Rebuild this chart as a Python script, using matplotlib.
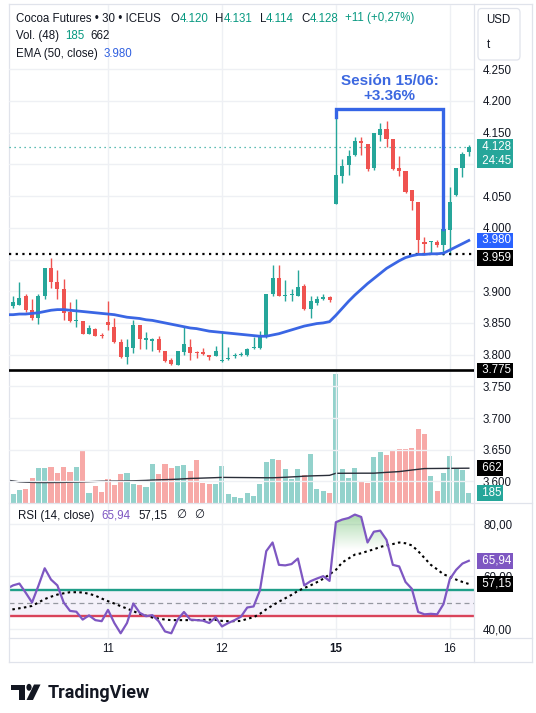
import matplotlib.pyplot as plt
import numpy as np
from matplotlib.lines import Line2D
from matplotlib.patches import FancyBboxPatch, Polygon, Circle
from matplotlib.path import Path
from matplotlib.transforms import blended_transform_factory, offset_copy

plt.rcParams['font.family'] = ['Liberation Sans', 'DejaVu Sans']

# ---- data (30 min bars) ----
opens = [3.883, 3.876, 3.878, 3.892, 3.871, 3.858, 3.892, 3.937, 3.915, 3.904,
         3.867, 3.853, 3.853, 3.832, 3.841, 3.830, 3.851, 3.844, 3.820, 3.796,
         3.810, 3.847, 3.8237, 3.821, 3.824, 3.806, 3.791, 3.784, 3.804, 3.812,
         3.8033, 3.8027, 3.800, 3.798, 3.790, 3.7927, 3.7975, 3.7996, 3.800, 3.810,
         3.811, 3.828, 3.895, 3.921, 3.893, 3.8942, 3.892, 3.909, 3.872, 3.8816,
         3.887, 3.891, 4.037, 4.082, 4.099, 4.115, 4.137, 4.132, 4.094, 4.146,
         4.156, 4.140, 4.095, 4.0896, 4.060, 4.041, 3.978, 3.978, 3.978, 3.973,
         3.997, 4.052, 4.094, 4.120]
highs = [3.884, 3.893, 3.915, 3.896, 3.888, 3.896, 3.936, 3.952, 3.933, 3.920,
         3.883, 3.887, 3.853, 3.847, 3.842, 3.834, 3.884, 3.858, 3.824, 3.824,
         3.855, 3.847, 3.836, 3.826, 3.830, 3.806, 3.795, 3.805, 3.845, 3.824,
         3.805, 3.811, 3.800, 3.813, 3.837, 3.812, 3.803, 3.804, 3.811, 3.828,
         3.837, 3.895, 3.942, 3.942, 3.917, 3.903, 3.933, 3.912, 3.892, 3.893,
         3.896, 3.892, 4.175, 4.108, 4.123, 4.144, 4.143, 4.132, 4.149, 4.166,
         4.169, 4.140, 4.113, 4.0896, 4.060, 4.041, 3.986, 3.9797, 3.981, 3.999,
         4.064, 4.095, 4.120, 4.131]
lows = [3.877, 3.873, 3.878, 3.868, 3.855, 3.849, 3.888, 3.905, 3.887, 3.855,
        3.851, 3.844, 3.832, 3.832, 3.829, 3.826, 3.839, 3.818, 3.795, 3.786,
        3.803, 3.809, 3.809, 3.805, 3.804, 3.788, 3.783, 3.783, 3.799, 3.792,
        3.795, 3.799, 3.791, 3.798, 3.789, 3.7917, 3.795, 3.7975, 3.7985, 3.809,
        3.809, 3.827, 3.893, 3.893, 3.884, 3.884, 3.892, 3.871, 3.858, 3.879,
        3.886, 3.8826, 4.037, 4.070, 4.083, 4.113, 4.115, 4.089, 4.091, 4.1375,
        4.128, 4.091, 4.082, 4.055, 4.028, 3.960, 3.959, 3.961, 3.970, 3.957,
        3.957, 4.050, 4.080, 4.114]
closes = [3.879, 3.883, 3.890, 3.870, 3.858, 3.893, 3.936, 3.914, 3.903, 3.866,
          3.853, 3.8535, 3.833, 3.842, 3.829, 3.829, 3.846, 3.820, 3.796, 3.812,
          3.847, 3.825, 3.8243, 3.825, 3.808, 3.790, 3.786, 3.805, 3.817, 3.803,
          3.8027, 3.8016, 3.796, 3.806, 3.7905, 3.7932, 3.7985, 3.8003, 3.809, 3.811,
          3.828, 3.895, 3.921, 3.893, 3.8937, 3.8948, 3.907, 3.872, 3.884, 3.888,
          3.891, 3.8858, 4.083, 4.0975, 4.113, 4.137, 4.133, 4.092, 4.149, 4.156,
          4.140, 4.093, 4.089, 4.057, 4.043, 3.980, 3.9745, 3.9785, 3.973, 3.998,
          4.041, 4.094, 4.116, 4.128]
volumes = [337, 175, 253, 273, 467, 662, 662, 694, 565, 681,
           584, 681, 986, 195, 331, 214, 448, 350, 545, 565,
           370, 350, 312, 740, 545, 740, 662, 701, 720, 604,
           818, 389, 370, 370, 701, 175, 117, 97, 195, 136,
           370, 779, 837, 818, 643, 448, 643, 526, 935, 273,
           234, 195, 2450, 643, 467, 662, 409, 389, 876, 974,
           915, 993, 1032, 1032, 1051, 1402, 1304, 506, 234, 565,
           896, 643, 623, 185]
vol_ma = [435, 420, 402, 396, 392, 390, 389, 390, 391, 392,
          395, 398, 401, 405, 410, 415, 416, 417, 418, 420,
          422, 426, 430, 436, 440, 444, 448, 453, 460, 467,
          470, 474, 478, 482, 487, 486, 485, 484, 483, 482,
          481, 480, 480, 484, 489, 496, 502, 510, 515, 519,
          522, 526, 565, 565, 566, 566, 567, 567, 567, 575,
          583, 590, 597, 612, 627, 641, 655, 656, 657, 658,
          659, 660, 661, 662]
ema50 = [3.863, 3.863, 3.864, 3.864, 3.865, 3.866, 3.868, 3.870, 3.871, 3.871,
         3.870, 3.869, 3.868, 3.867, 3.866, 3.865, 3.864, 3.863, 3.861, 3.859,
         3.858, 3.857, 3.855, 3.854, 3.852, 3.850, 3.848, 3.846, 3.844, 3.842,
         3.841, 3.839, 3.837, 3.836, 3.835, 3.834, 3.833, 3.832, 3.831, 3.830,
         3.829, 3.829, 3.831, 3.833, 3.836, 3.839, 3.842, 3.845, 3.847, 3.849,
         3.850, 3.852, 3.862, 3.873, 3.884, 3.894, 3.903, 3.912, 3.920, 3.928,
         3.936, 3.942, 3.948, 3.953, 3.956, 3.958, 3.958, 3.959, 3.959, 3.960,
         3.965, 3.970, 3.975, 3.980]
rsi = [55.3, 56.6, 57.3, 53.8, 50.1, 56.4, 63.1, 58.8, 56.6, 50.1,
       46.9, 46.6, 43.6, 45.2, 43.4, 43.0, 47.3, 42.3, 38.4, 42.3,
       49.7, 46.2, 44.9, 45.3, 43.0, 39.1, 38.4, 43.6, 46.5, 43.6,
       43.4, 43.2, 42.3, 44.5, 41.0, 42.3, 43.4, 44.7, 48.2, 48.6,
       54.7, 69.6, 72.9, 64.4, 64.2, 64.7, 66.8, 56.6, 58.2, 59.2,
       60.1, 58.3, 80.6, 81.6, 82.2, 83.5, 82.6, 72.9, 77.0, 77.4,
       73.9, 64.4, 63.8, 57.9, 55.3, 46.5, 45.6, 45.8, 45.6, 49.5,
       59.0, 62.5, 64.9, 65.94]
rsi_ma = [46.9, 47.5, 47.9, 48.3, 48.8, 50.1, 51.4, 52.3, 53.1, 53.6,
          54.0, 54.0, 53.9, 53.4, 52.7, 51.6, 50.6, 49.7, 48.7, 47.8,
          46.8, 45.8, 45.1, 44.4, 44.0, 43.6, 43.4, 43.4, 43.4, 43.4,
          43.4, 43.5, 43.6, 43.5, 43.1, 43.0, 43.0, 43.1, 43.9, 44.5,
          45.8, 47.5, 49.0, 50.4, 51.7, 53.0, 54.5, 55.6, 56.6, 57.8,
          59.1, 60.8, 62.5, 65.3, 66.8, 68.3, 68.8, 69.6, 70.3, 71.2,
          71.8, 72.3, 72.9, 72.6, 71.8, 69.6, 67.0, 64.4, 62.7, 60.8,
          59.9, 58.8, 57.9, 57.15]

day_ticks = [16, 34, 52, 70]
day_labels = ['11', '12', '15', '16']
price_ticks = [3.60, 3.65, 3.70, 3.75, 3.80, 3.85, 3.90, 3.95, 4.00, 4.05, 4.10, 4.15, 4.20, 4.25]
hidden_ticks = [3.95, 4.10]  # covered by the value boxes on the chart
rsi_ticks = [40, 60, 80]
support = 3.959
floor_level = 3.775
bracket_top = 4.187
session_start, session_end = 52, 69

# ---- colours ----
GREEN = '#26a69a'
RED = '#ef5350'
DARK = '#131722'
GRID = '#eef0f4'
BORDER = '#e0e3eb'
BLUE = '#2962ff'
PURPLE = '#7e57c2'
TEAL = '#089981'

W, H = 536, 713


def fx(x):
    return x / W


def fy(y):
    return 1 - y / H


fig = plt.figure(figsize=(W / 100, H / 100), dpi=100)
ax = fig.add_axes([fx(9), fy(503), fx(474) - fx(9), (503 - 5) / H])
axv = ax.twinx()
axr = fig.add_axes([fx(9), fy(637.5), fx(474) - fx(9), (637.5 - 503) / H])
ax.set_zorder(2)
ax.patch.set_visible(False)
axv.set_zorder(1)

idx = np.arange(len(opens))
o = np.array(opens)
c = np.array(closes)
up = c >= o
cols = np.where(up, GREEN, RED)
vcols = np.where(up, '#93d2cc', '#f7a9a7')

# volume
axv.bar(idx, volumes, width=0.8, color=vcols, zorder=1)
axv.plot(idx, vol_ma, color='#2a2e39', lw=1.0, zorder=2)
axv.set_ylim(0, 9470)
axv.set_yticks([])

# candles
ax.vlines(idx, lows, highs, colors=cols, lw=1.0, zorder=3)
ax.bar(idx, np.maximum(np.abs(c - o), 0.0018), bottom=np.minimum(o, c),
       width=0.64, color=cols, zorder=4)
ax.plot(idx, ema50, color='#3a66e4', lw=2.0, zorder=5)

ax.axhline(support, color='black', ls=(0, (1, 2)), lw=1.6, zorder=3)
ax.axhline(floor_level, color='black', lw=1.9, zorder=3)
ax.axhline(closes[-1], color=GREEN, ls=(0, (1, 3)), lw=0.9, zorder=2)

# session bracket
ax.plot([session_start, session_start, session_end, session_end],
        [highs[session_start], bracket_top, bracket_top, closes[session_end]],
        color='#3565e6', lw=2.4, solid_joinstyle='miter', zorder=6)
ax.text((session_start + session_end) / 2, 4.2194, 'Sesión 15/06:\n+3.36%',
        ha='center', va='center', fontsize=11, fontweight='bold',
        color='#3c68e0', linespacing=1.05, zorder=7)

ax.set_xlim(0.36, 73.82)
ax.set_ylim(3.566, 4.3514)
ax.set_xticks(day_ticks)
ax.set_yticks(price_ticks)
ax.set_yticklabels(['' if p in hidden_ticks else f'{p:.3f}' for p in price_ticks])
ax.yaxis.tick_right()
ax.tick_params(axis='y', length=0, pad=6.5, labelsize=8.3, labelcolor=DARK)
ax.tick_params(axis='x', length=0, labelbottom=False)
ax.grid(True, color=GRID, lw=1.0)
for a in (ax, axv, axr):
    for s in a.spines.values():
        s.set_visible(False)

# right-axis value boxes
bt = blended_transform_factory(ax.transAxes, ax.transData)
bx = (479 - 9) / 465


def value_box(target, s, y, fc, trans, dy=0):
    tr = offset_copy(trans, fig=fig, y=dy, units='dots') if dy else trans
    target.text(bx, y, ' ' + s, transform=tr, ha='left', va='center', fontsize=8.3,
                color='white', clip_on=False, zorder=20, linespacing=1.2,
                bbox=dict(boxstyle='square,pad=0.16', fc=fc, ec='none'))


value_box(ax, f'{closes[-1]:.3f}\n 24:45', closes[-1], GREEN, bt, dy=-7)
value_box(ax, f'{ema50[-1]:.3f}', ema50[-1], BLUE, bt)
value_box(ax, f'{support:.3f}', support, 'black', bt, dy=-4.5)
value_box(ax, f'{floor_level:.3f}', floor_level, 'black', bt)
vt = blended_transform_factory(ax.transAxes, axv.transData)
value_box(ax, f'{vol_ma[-1]}', vol_ma[-1], 'black', vt)
value_box(ax, f'{volumes[-1]}', volumes[-1], GREEN, vt)

# RSI pane
r = np.array(rsi)
axr.axhspan(45, 55, color=PURPLE, alpha=0.08, lw=0)
axr.axhline(55, color='#1f9e89', lw=1.7)
axr.axhline(45, color='#d9435a', lw=1.7)
axr.axhline(50, color='#9598a1', lw=0.9, dashes=(4, 3))
fb = axr.fill_between(idx, 70, r, where=r > 70, interpolate=True, color='none', lw=0)
paths = fb.get_paths()
if paths:
    grad = np.zeros((100, 1, 4))
    grad[:, 0, 0] = 0.30
    grad[:, 0, 1] = 0.69
    grad[:, 0, 2] = 0.31
    grad[:, 0, 3] = np.linspace(0.0, 0.55, 100)
    img = axr.imshow(grad, extent=[0, 74, 70, 86], origin='lower', aspect='auto', zorder=2)
    img.set_clip_path(Path.make_compound_path(*paths), transform=axr.transData)
axr.plot(idx, rsi, color=PURPLE, lw=1.6, zorder=4)
axr.plot(idx, rsi_ma, color='black', lw=1.5, ls=(0, (1.2, 1.6)), zorder=3)
axr.set_xlim(0.36, 73.82)
axr.set_ylim(36.8, 87.9)
axr.set_yticks(rsi_ticks)
axr.set_yticklabels([f'{v:.2f}'.replace('.', ',') for v in rsi_ticks])
axr.yaxis.tick_right()
axr.set_xticks(day_ticks)
axr.set_xticklabels(day_labels)
axr.tick_params(axis='both', length=0, labelsize=8.3, labelcolor=DARK)
axr.tick_params(axis='y', pad=6.5)
axr.tick_params(axis='x', pad=4)
for lab in axr.get_xticklabels():
    if lab.get_text() == '15':
        lab.set_fontweight('bold')
axr.grid(True, color=GRID, lw=1.0)

rt = blended_transform_factory(axr.transAxes, axr.transData)
value_box(axr, f'{rsi[-1]:.2f}'.replace('.', ','), rsi[-1], PURPLE, rt)
value_box(axr, f'{rsi_ma[-1]:.2f}'.replace('.', ','), rsi_ma[-1], 'black', rt)

# frame lines
for (x0, y0, x1, y1) in [(8.5, 4, 8.5, 662), (8.5, 4, 532, 4), (532, 4, 532, 662),
                         (8.5, 662, 532, 662), (474, 4, 474, 662),
                         (8.5, 503, 532, 503), (8.5, 637.5, 532, 637.5)]:
    fig.add_artist(Line2D([fx(x0), fx(x1)], [fy(y0), fy(y1)], color=BORDER, lw=0.9))

# legend rows: groups laid out one after another
renderer = fig.canvas.get_renderer()


def text_row(x, y, groups, size=8.3):
    for gap, parts in groups:
        x += gap
        for s, col in parts:
            t = fig.text(fx(x), fy(y), s, ha='left', va='center', fontsize=size, color=col)
            x += t.get_window_extent(renderer).width


text_row(16, 18.5, [(0, [('Cocoa Futures • 30 • ICEUS', DARK)]),
                    (10, [('O', DARK), (f'{opens[-1]:.3f}', TEAL)]),
                    (7, [('H', DARK), (f'{highs[-1]:.3f}', TEAL)]),
                    (7, [('L', DARK), (f'{lows[-1]:.3f}', TEAL)]),
                    (7, [('C', DARK), (f'{closes[-1]:.3f}', TEAL)]),
                    (7, [('+11 (+0,27%)', TEAL)])])
text_row(16, 36, [(0, [('Vol. (48)', DARK)]), (6, [(f'{volumes[-1]}', TEAL)]),
                  (6, [(f'{vol_ma[-1]}', DARK)])])
text_row(16, 54, [(0, [('EMA (50, close)', DARK)]), (6, [(f'{ema50[-1]:.3f}', '#2f5fe0')])])
text_row(17.5, 515.5, [(0, [('RSI (14, close)', DARK)]),
                       (8, [(f'{rsi[-1]:.2f}'.replace('.', ','), PURPLE)]),
                       (8, [(f'{rsi_ma[-1]:.2f}'.replace('.', ','), DARK)]),
                       (8, [('∅', DARK)]), (8, [('∅', DARK)])])

# currency box
fig.add_artist(FancyBboxPatch((fx(478), fy(60)), fx(520) - fx(478), (60 - 8.5) / H,
                              boxstyle='round,pad=0,rounding_size=0.006',
                              transform=fig.transFigure, fc='white', ec=BORDER, lw=0.9))
fig.text(fx(486), fy(20), 'USD', ha='left', va='center', fontsize=8.3, color=DARK)
fig.text(fx(487), fy(45), 't', ha='left', va='center', fontsize=8.3, color=DARK)

# TradingView logo
fig.add_artist(Polygon([(fx(10.5), fy(684.5)), (fx(25), fy(684.5)), (fx(25), fy(700)),
                        (fx(19), fy(700)), (fx(19), fy(690)), (fx(10.5), fy(690))],
                       closed=True, transform=fig.transFigure, fc='#131722', ec='none'))
fig.add_artist(Circle((fx(29), fy(687.3)), 2.6 / W, transform=fig.transFigure,
                      fc='#131722', ec='none'))
fig.add_artist(Polygon([(fx(34), fy(684.5)), (fx(40.5), fy(684.5)), (fx(33), fy(700)),
                        (fx(26.5), fy(700))],
                       closed=True, transform=fig.transFigure, fc='#131722', ec='none'))
fig.text(fx(48), fy(692.5), 'TradingView', ha='left', va='center', fontsize=13,
         fontweight='bold', color='#131722', family=['Roboto', 'DejaVu Sans'])

fig.savefig('out.png', dpi=100)
